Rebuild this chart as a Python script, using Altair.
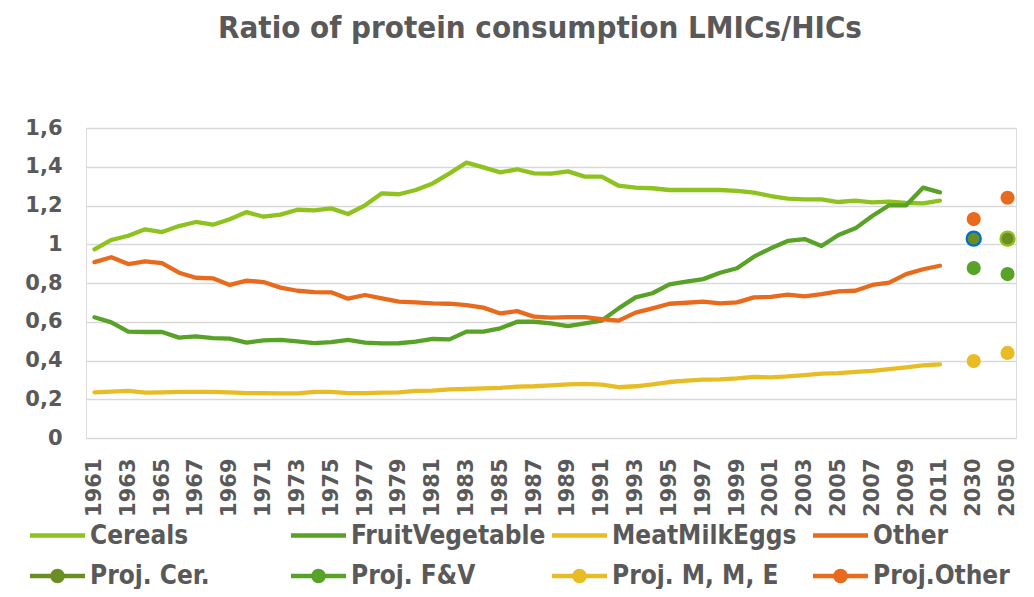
import altair as alt
import pandas as pd

# ---------------- data ----------------
years = [str(y) for y in range(1961, 2012)]
x_categories = years + ["2020", "2030", "2040", "2050"]
x_tick_labels = [str(y) for y in range(1961, 2012, 2)] + ["2030", "2050"]
y_ticks = [0, 0.2, 0.4, 0.6, 0.8, 1.0, 1.2, 1.4, 1.6]

cereals = [0.974, 1.022, 1.044, 1.077, 1.063, 1.094, 1.115, 1.101, 1.129, 1.166,
           1.142, 1.153, 1.178, 1.175, 1.185, 1.156, 1.201, 1.263, 1.258, 1.280,
           1.314, 1.366, 1.421, 1.397, 1.371, 1.387, 1.366, 1.364, 1.376, 1.349,
           1.349, 1.302, 1.292, 1.289, 1.280, 1.280, 1.280, 1.280, 1.275, 1.266,
           1.249, 1.235, 1.232, 1.232, 1.218, 1.225, 1.216, 1.220, 1.214, 1.211,
           1.225]
fruit_veg = [0.623, 0.597, 0.549, 0.547, 0.547, 0.518, 0.525, 0.516, 0.513, 0.492,
             0.504, 0.506, 0.499, 0.490, 0.495, 0.506, 0.492, 0.488, 0.489, 0.497,
             0.511, 0.509, 0.549, 0.549, 0.566, 0.600, 0.600, 0.592, 0.578, 0.592,
             0.606, 0.669, 0.726, 0.747, 0.793, 0.807, 0.820, 0.853, 0.876, 0.936,
             0.979, 1.017, 1.027, 0.991, 1.048, 1.082, 1.146, 1.201, 1.201, 1.292,
             1.268]
meat_milk_eggs = [0.236, 0.239, 0.243, 0.234, 0.236, 0.238, 0.238, 0.238, 0.236, 0.232,
                  0.232, 0.230, 0.230, 0.238, 0.238, 0.232, 0.232, 0.234, 0.236, 0.243,
                  0.245, 0.251, 0.253, 0.256, 0.259, 0.265, 0.267, 0.272, 0.277, 0.279,
                  0.275, 0.262, 0.267, 0.277, 0.289, 0.296, 0.301, 0.303, 0.308, 0.315,
                  0.313, 0.318, 0.325, 0.332, 0.335, 0.341, 0.346, 0.356, 0.365, 0.375,
                  0.380]
other = [0.908, 0.933, 0.898, 0.912, 0.902, 0.853, 0.827, 0.824, 0.790, 0.812,
         0.805, 0.776, 0.760, 0.753, 0.752, 0.719, 0.738, 0.721, 0.704, 0.700,
         0.695, 0.693, 0.686, 0.673, 0.643, 0.655, 0.626, 0.621, 0.624, 0.624,
         0.614, 0.606, 0.647, 0.669, 0.693, 0.698, 0.704, 0.695, 0.700, 0.726,
         0.728, 0.740, 0.731, 0.743, 0.757, 0.760, 0.790, 0.802, 0.846, 0.871,
         0.889]

proj_years = ["2030", "2050"]
proj_cer = [1.029, 1.029]
proj_fv = [0.877, 0.846]
proj_mme = [0.397, 0.439]
proj_other = [1.130, 1.240]

line_names = ["Cereals", "FruitVegetable", "MeatMilkEggs", "Other"]
proj_names = ["Proj. Cer.", "Proj. F&V", "Proj. M, M, E", "Proj.Other"]
series_names = line_names + proj_names
series_colors = ["#8DC21F", "#57A227", "#E8BC24", "#E96A1C",
                 "#6B8E23", "#57A227", "#E8BC24", "#E96A1C"]

rows = []
for name, vals in zip(line_names, [cereals, fruit_veg, meat_milk_eggs, other]):
    for yr, v in zip(years, vals):
        rows.append({"year": yr, "value": v, "series": name})
lines_df = pd.DataFrame(rows)

prow = []
for name, vals in zip(proj_names, [proj_cer, proj_fv, proj_mme, proj_other]):
    for yr, v in zip(proj_years, vals):
        prow.append({"year": yr, "value": v, "series": name})
proj_df = pd.DataFrame(prow)

# ---------------- styling ----------------
TEXT = "#595959"
COND = "DejaVu Sans Condensed, DejaVu Sans, sans-serif"
BASE = "DejaVu Sans, sans-serif"

# legend glyphs: a line, or a line with a dot in the middle
line_path = "M-1,0L4.5,0"
proj_path = "M-1,0L4.5,0M1.25,0A0.5,0.5 0 1,1 2.25,0A0.5,0.5 0 1,1 1.25,0Z"
legend_shapes = [line_path] * 4 + [proj_path] * 4

legend = alt.Legend(
    title=None, orient="none", legendX=-59, legendY=394,
    columns=4, direction="horizontal", gridAlign="all",
    columnPadding=-3, rowPadding=13, padding=0,
    labelFont=COND, labelFontSize=26, labelFontWeight="bold",
    labelColor=TEXT, labelLimit=400, labelOffset=37,
    symbolSize=400, symbolStrokeWidth=4.5, symbolOpacity=1,
)

color = alt.Color("series:N",
                  scale=alt.Scale(domain=series_names, range=series_colors),
                  legend=legend)
shape = alt.Shape("series:N",
                  scale=alt.Scale(domain=series_names, range=legend_shapes),
                  legend=legend)

x = alt.X("year:N",
          scale=alt.Scale(type="point", domain=x_categories, padding=0.5),
          axis=alt.Axis(title=None, values=x_tick_labels, labelAngle=270,
                        labelFont=BASE, labelFontSize=21, labelFontWeight="bold",
                        labelColor=TEXT, labelPadding=20, ticks=False,
                        domain=False, grid=False))
y = alt.Y("value:Q",
          scale=alt.Scale(domain=[0, 1.6], nice=False),
          axis=alt.Axis(title=None, values=y_ticks,
                        labelExpr="replace(format(datum.value, '~g'), '.', ',')",
                        labelFont=BASE, labelFontSize=21, labelFontWeight="bold",
                        labelColor=TEXT, labelPadding=24, ticks=False, tickSize=0,
                        domain=False, grid=True, gridColor="#D9D9D9",
                        gridWidth=1.3))

lines = alt.Chart(lines_df).mark_line(strokeWidth=4.3, strokeCap="round",
                                      strokeJoin="round").encode(
    x=x, y=y, color=color)

points = alt.Chart(proj_df).mark_point(filled=True, size=200, opacity=1,
                                       shape="circle").encode(
    x=x, y=y, color=color)

cer_outline = alt.Chart(proj_df).transform_filter(
    "datum.series == 'Proj. Cer.'"
).mark_point(filled=False, size=200, opacity=1, shape="circle",
             strokeWidth=2.2).encode(
    x=x, y=y,
    stroke=alt.condition("datum.year == '2030'",
                         alt.value("#0070C0"), alt.value("#8DC21F")),
)

# invisible layer (no rows) that only carries the legend glyph shapes
legend_proxy = alt.Chart(proj_df).transform_filter("false").mark_point(
    filled=True, opacity=1).encode(x=x, y=y, color=color, shape=shape)

chart = alt.layer(lines, points, cer_outline, legend_proxy).properties(
    width=930, height=310,
    title=alt.Title("Ratio of protein consumption LMICs/HICs",
                    font=COND, fontSize=31, fontWeight="bold", color=TEXT,
                    anchor="middle", dx=-11, offset=72),
    autosize=alt.AutoSizeParams(type="none"),
    padding={"left": 78, "top": 120, "right": 10, "bottom": 151},
).configure_view(stroke=None).configure(background="white")

chart.save("out.html", embed_options={"renderer": "svg", "actions": False})
